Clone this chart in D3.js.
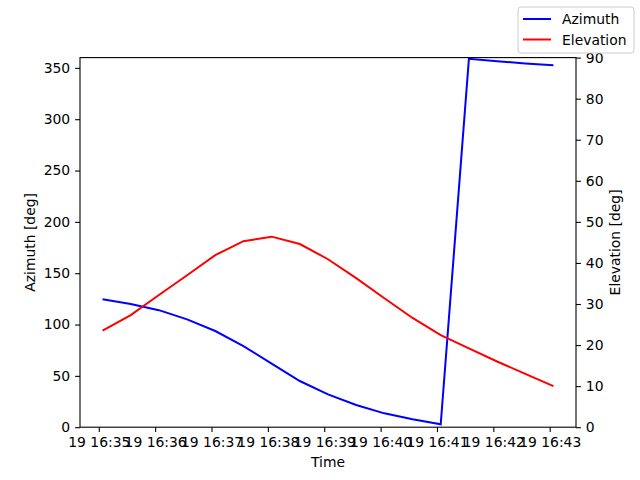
<!DOCTYPE html>
<html>
<head>
<meta charset="utf-8">
<script src="https://cdn.jsdelivr.net/npm/d3@7"></script>
<style>
  body { margin: 0; background: #fff; }
  text { font-family: "DejaVu Sans", sans-serif; }
</style>
</head>
<body>
<div id="chart"></div>
<script>
// samples every 30 s starting 19 16:35:04
var seconds = [0, 30, 60, 90, 120, 150, 180, 210, 240, 270, 300, 330, 360, 390, 420, 450, 480];
var azimuth = [124.6, 120.0, 114.0, 105.0, 93.7, 79.0, 62.0, 45.0, 32.0, 21.6, 13.5, 7.7, 2.8, 358.8, 356.5, 354.3, 352.5];
var elevation = [23.5, 27.3, 32.2, 37.0, 41.9, 45.3, 46.4, 44.6, 40.9, 36.3, 31.4, 26.6, 22.4, 19.2, 16.0, 13.0, 10.0];
var legendNames = ["Azimuth", "Elevation"];
var legendColors = ["blue", "red"];

var startTime = new Date(2023, 3, 19, 16, 35, 4);
var times = seconds.map(s => new Date(startTime.getTime() + s * 1000));

var svgWidth = 640;
var svgHeight = 480;
var margin = { top: 57.6, right: 64, bottom: 52.8, left: 80 };
var width = svgWidth - margin.left - margin.right;
var height = svgHeight - margin.top - margin.bottom;

var svg = d3.select("#chart")
    .append("svg")
    .attr("width", svgWidth)
    .attr("height", svgHeight);

var chartGroup = svg.append("g")
    .attr("transform", `translate(${margin.left}, ${margin.top})`);

// 5% margin on the time axis like matplotlib
var t0 = times[0].getTime(), t1 = times[times.length - 1].getTime();
var pad = (t1 - t0) * 0.05;
var xScale = d3.scaleTime()
    .domain([new Date(t0 - pad), new Date(t1 + pad)])
    .range([0, width]);

var yLeft = d3.scaleLinear().domain([0, 360]).range([height, 0]);
var yRight = d3.scaleLinear().domain([0, 90]).range([height, 0]);

var tickTimes = d3.range(35, 44).map(m => new Date(2023, 3, 19, 16, m, 0));

var bottomAxis = d3.axisBottom(xScale)
    .tickValues(tickTimes)
    .tickFormat(d3.timeFormat("%d %H:%M"))
    .tickSize(4.9).tickPadding(4.9);
var leftAxis = d3.axisLeft(yLeft).tickValues(d3.range(0, 351, 50)).tickSize(4.9).tickPadding(4.9);
var rightAxis = d3.axisRight(yRight).tickValues(d3.range(0, 91, 10)).tickSize(4.9).tickPadding(4.9);

function styleAxis(g) {
    g.select(".domain").remove();
    g.selectAll(".tick line").attr("stroke", "#000").attr("stroke-width", 1.1);
    g.selectAll(".tick text").attr("font-size", "13.9px").attr("fill", "#000")
        .style("font-family", "DejaVu Sans, sans-serif");
}

chartGroup.append("g").attr("transform", `translate(0, ${height})`).call(bottomAxis).call(styleAxis);
chartGroup.append("g").call(leftAxis).call(styleAxis);
chartGroup.append("g").attr("transform", `translate(${width}, 0)`).call(rightAxis).call(styleAxis);

// lines
var azLine = d3.line().x((d, i) => xScale(times[i])).y(d => yLeft(d));
var elLine = d3.line().x((d, i) => xScale(times[i])).y(d => yRight(d));

chartGroup.append("path").datum(azimuth)
    .attr("d", azLine).attr("fill", "none").attr("stroke", "blue").attr("stroke-width", 2);
chartGroup.append("path").datum(elevation)
    .attr("d", elLine).attr("fill", "none").attr("stroke", "red").attr("stroke-width", 2);

// frame
chartGroup.append("rect")
    .attr("width", width).attr("height", height)
    .attr("fill", "none").attr("stroke", "#000").attr("stroke-width", 1.1);

// axis labels
svg.append("text")
    .attr("x", margin.left + width / 2).attr("y", 467)
    .attr("text-anchor", "middle").attr("font-size", "13.9px")
    .text("Time");
svg.append("text")
    .attr("transform", `translate(35, ${margin.top + height / 2}) rotate(-90)`)
    .attr("text-anchor", "middle").attr("font-size", "13.9px")
    .text("Azimuth [deg]");
svg.append("text")
    .attr("transform", `translate(620, ${margin.top + height / 2}) rotate(-90)`)
    .attr("text-anchor", "middle").attr("font-size", "13.9px")
    .text("Elevation [deg]");

// legend
var legend = svg.append("g").attr("transform", "translate(518, 7)");
legend.append("rect")
    .attr("width", 116).attr("height", 46).attr("rx", 3)
    .attr("fill", "#fff").attr("fill-opacity", 0.8)
    .attr("stroke", "#ccc").attr("stroke-width", 1);
legendNames.forEach((name, i) => {
    var y = 12 + i * 20.5;
    legend.append("line")
        .attr("x1", 5).attr("x2", 33).attr("y1", y).attr("y2", y)
        .attr("stroke", legendColors[i]).attr("stroke-width", 2);
    legend.append("text")
        .attr("x", 44).attr("y", y + 5)
        .attr("font-size", "13.9px")
        .text(name);
});
</script>
</body>
</html>
